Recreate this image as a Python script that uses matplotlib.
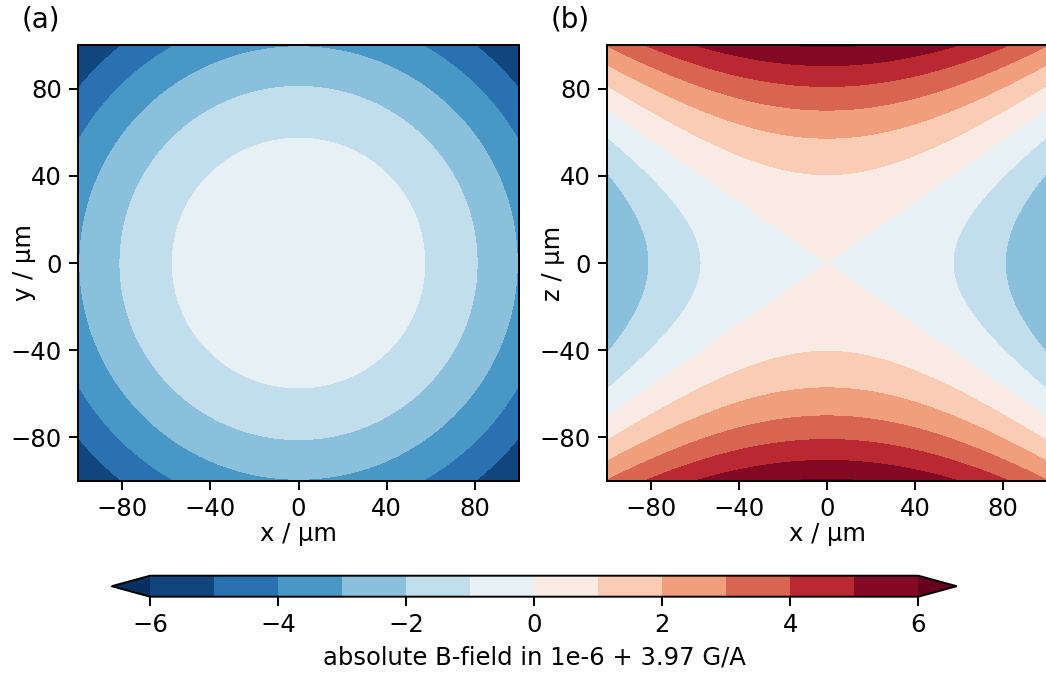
import matplotlib
matplotlib.use("Agg")
import numpy as np
import matplotlib.pyplot as plt

# field change per um^2 (curvature of |B| around the trap centre)
curv = 1.0 / 1640.0
span_um = [-100, 100]
levels = [-6, -5, -4, -3, -2, -1, 0, 1, 2, 3, 4, 5, 6]
ticks = [-80, -40, 0, 40, 80]
cb_ticks = [-6, -4, -2, 0, 2, 4, 6]
panel_tags = ["(a)", "(b)"]
ylabels = ["y / µm", "z / µm"]
cb_label = "absolute B-field in 1e-6 + 3.97 G/A"

plt.rcParams['font.size'] = 17.5
plt.rcParams['axes.linewidth'] = 1.4

u = np.linspace(span_um[0], span_um[1], 501)
X, Y = np.meshgrid(u, u)
B_xy = curv * (0.0 - (X**2 + Y**2) / 2)     # z = 0 plane
B_xz = curv * (Y**2 - X**2 / 2)             # y = 0 plane, Y is z here

fig = plt.figure(figsize=(10.46, 6.75), dpi=100)
axa = fig.add_axes([0.0746, 0.2874, 0.4216, 0.6459])
axb = fig.add_axes([0.5803, 0.2874, 0.4207, 0.6459])

for ax, B, tag, yl in zip([axa, axb], [B_xy, B_xz], panel_tags, ylabels):
    cs = ax.contourf(X, Y, B, levels=levels, cmap='RdBu_r', extend='both')
    ax.set_xticks(ticks)
    ax.set_yticks(ticks)
    ax.set_xlim(span_um)
    ax.set_ylim(span_um)
    ax.tick_params(length=6.5, width=1.4, pad=5)
    ax.set_xlabel("x / µm", labelpad=1)
    ax.set_ylabel(yl)
    ax.yaxis.set_label_coords(-0.095, 0.5)
    ax.text(-0.128, 1.04, tag, transform=ax.transAxes, fontsize=20,
            va='baseline', ha='left')

cax = fig.add_axes([0.1068, 0.116, 0.8078, 0.0311])
cb = fig.colorbar(cs, cax=cax, orientation='horizontal', ticks=cb_ticks)
cb.outline.set_linewidth(1.4)
cb.ax.tick_params(length=6.5, width=1.4, pad=5)
cb.set_label(cb_label, labelpad=6)

plt.savefig('out.png', dpi=100)
plt.close()
